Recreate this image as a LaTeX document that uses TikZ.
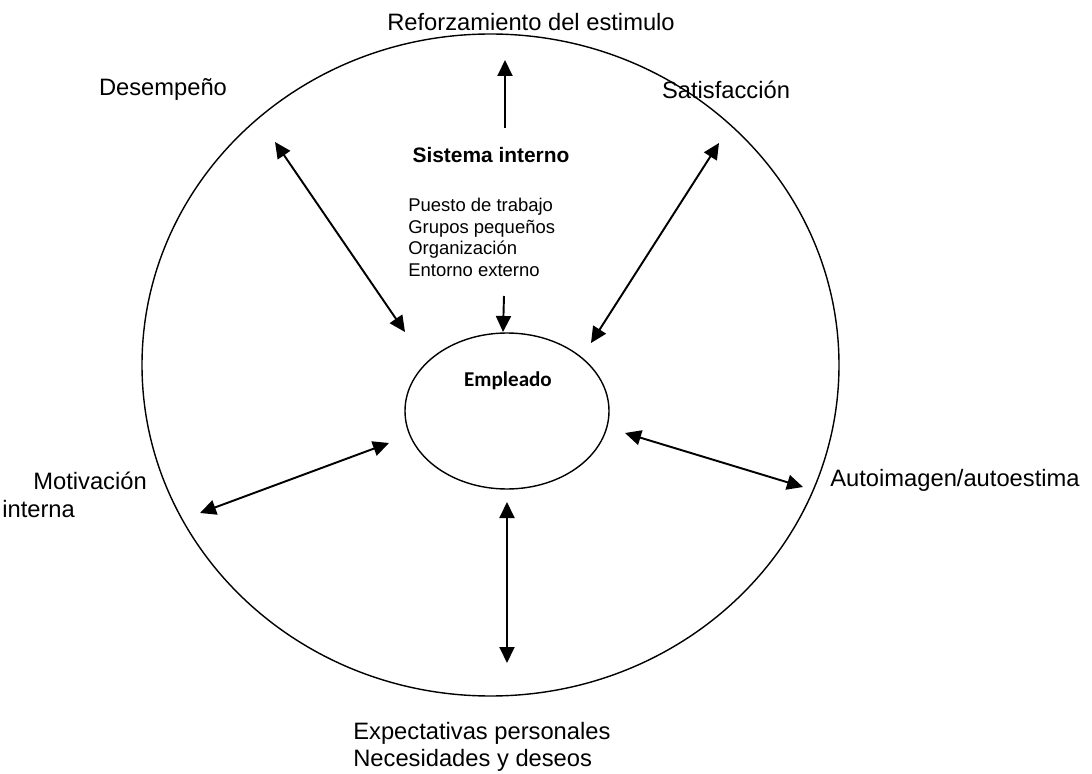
\documentclass[tikz,border=0pt]{standalone}
\usepackage{fontspec}
\setmainfont{Liberation Sans}
\newfontfamily\calibri{Carlito}
\usetikzlibrary{arrows.meta, shapes.geometric}

\begin{document}
\begin{tikzpicture}[
  lbl/.style={inner sep=0pt, font=\fontsize{13.5}{16}\selectfont},
  arr/.style={-{Triangle[length=3.2mm, width=3mm]}, line width=1.1pt},
  dbl/.style={{Triangle[length=3.2mm, width=3mm]}-{Triangle[length=3.2mm, width=3mm]}, line width=1.1pt}
]
\useasboundingbox (0,0) rectangle (21.84,15.46);

% labels round the outside
\node[lbl] (refuerzo) at (10.62,15.02) {Reforzamiento del estimulo};
\node[lbl] (desemp) at (3.26,13.68) {Desempeño};
\node[lbl] (satisf) at (14.52,13.66) {Satisfacción};
\node[lbl, anchor=west, align=left] (motiv) at (0.04,5.56) {\hspace*{0.62cm}Motivación\\interna};
\node[lbl, anchor=west] (autoim) at (16.60,5.86) {Autoimagen/autoestima};
\node[lbl, anchor=west, align=left, font=\fontsize{13.5}{15.4}\selectfont] (expect) at (7.06,0.53)
  {Expectativas personales\\Necesidades y deseos};

% outer boundary
\draw[line width=0.8pt] (9.81,8.16) ellipse [x radius=6.97cm, y radius=6.62cm];

% internal system
\node[inner sep=0pt, font=\bfseries\fontsize{11.9}{14}\selectfont] (sistema) at (9.82,12.36) {Sistema interno};
\node[inner sep=0pt, anchor=west, align=left, font=\fontsize{10.5}{12.3}\selectfont] (lista) at (8.16,10.71)
  {Puesto de trabajo\\Grupos pequeños\\Organización\\Entorno externo};

% employee
\node[ellipse, draw, line width=0.8pt, minimum width=4.08cm, minimum height=3.12cm] (emp) at (10.14,7.24) {};
\node[font=\calibri\bfseries\fontsize{12}{14}\selectfont, inner sep=0pt] (emptxt) at (10.16,7.84) {Empleado};

% arrow ends
\coordinate (upA) at (10.10,12.90);
\coordinate (upB) at (10.10,14.26);
\coordinate (inA) at (10.08,9.54);
\coordinate (inB) at (10.06,8.82);
\coordinate (deA) at (5.50,12.62);
\coordinate (deB) at (8.10,8.82);
\coordinate (saA) at (14.38,12.60);
\coordinate (saB) at (11.82,8.60);
\coordinate (moA) at (4.00,5.20);
\coordinate (moB) at (7.78,6.60);
\coordinate (auA) at (12.50,6.80);
\coordinate (auB) at (16.06,5.72);
\coordinate (exA) at (10.14,5.42);
\coordinate (exB) at (10.14,2.20);

\draw[arr] (upA) -- (upB);
\draw[arr] (inA) -- (inB);
\draw[dbl] (deA) -- (deB);
\draw[dbl] (saA) -- (saB);
\draw[dbl] (moA) -- (moB);
\draw[dbl] (auA) -- (auB);
\draw[dbl] (exA) -- (exB);
\end{tikzpicture}
\end{document}
